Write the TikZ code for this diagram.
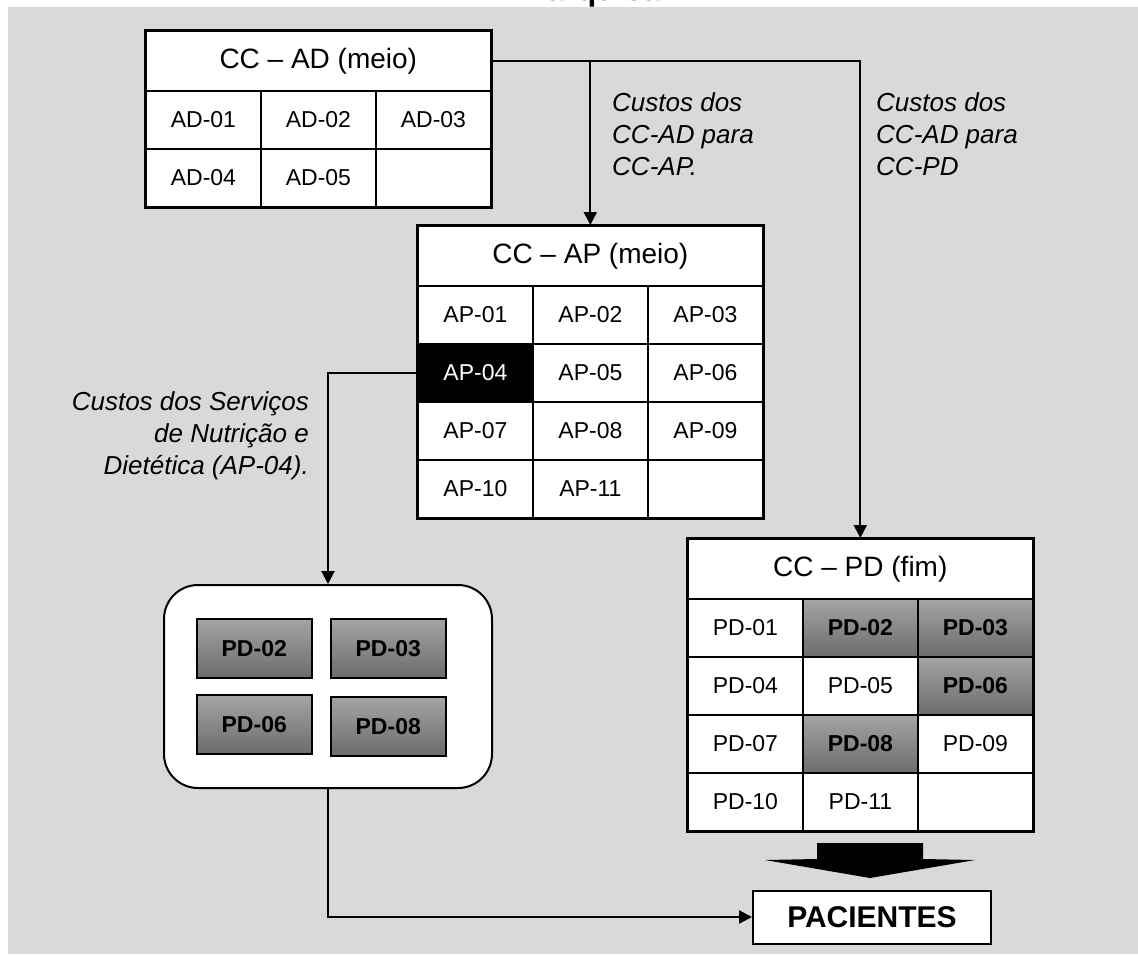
\documentclass[tikz,border=0pt]{standalone}
\usepackage{fontspec}
\setmainfont{Liberation Sans}
\usetikzlibrary{arrows.meta, positioning, calc}
\definecolor{bgpanel}{HTML}{D9D9D9}
\definecolor{shadehi}{HTML}{A4A4A4}
\definecolor{shadelo}{HTML}{6C6C6C}
\tikzset{
  hdr/.style={draw, fill=white, line width=1.6pt, minimum width=345pt, minimum height=60pt,
              inner sep=0pt, anchor=north west, font=\fontsize{28}{32}\selectfont},
  cell/.style={draw, fill=white, line width=1.8pt, minimum width=115pt, minimum height=58pt,
               inner sep=0pt, anchor=north west, font=\fontsize{23}{27}\selectfont},
  hcell/.style={cell, top color=shadehi, bottom color=shadelo, font=\fontsize{23}{27}\selectfont\bfseries},
  kcell/.style={cell, fill=black, text=white},
  gbox/.style={draw, line width=1.5pt, top color=shadehi, bottom color=shadelo, minimum width=115pt,
               minimum height=59pt, inner sep=0pt, anchor=north west, font=\fontsize{23}{27}\selectfont\bfseries},
  frame/.style={draw, line width=3pt},
  fl/.style={-{Triangle[length=13pt, width=13pt]}, line width=2.2pt},
  note/.style={inner sep=0pt, font=\fontsize{26}{32}\selectfont\itshape},
}

\begin{document}
\begin{tikzpicture}[x=1pt, y=-1pt]
    \useasboundingbox (0,0) rectangle (1138,954);
    \fill[white] (0,0) rectangle (1138,954);
    \begin{scope}
      \clip (0,0) rectangle (1138,7);
      \node[anchor=base west, inner sep=0pt, font=\fontsize{32}{36}\selectfont\bfseries] (ttl) at (534,0.5) {rárquica};
    \end{scope}
    \fill[bgpanel] (8,7) rectangle (1138,954);

    % CC-AD
    \node[hdr] (adh) at (145,30) {CC – AD (meio)};
    \foreach \i/\t in {1/AD-01, 2/AD-02, 3/AD-03, 4/AD-04, 5/AD-05, 6/{}} {
      \pgfmathtruncatemacro\cx{mod(\i-1,3)}
      \pgfmathtruncatemacro\ry{div(\i-1,3)}
      \node[cell] (ad\i) at (145+115*\cx, 90+58*\ry) {\t};
    }
    \draw[frame] (adh.north west) rectangle (ad6.south east);

    % CC-AP
    \node[hdr] (aph) at (417,225) {CC – AP (meio)};
    \foreach \i/\t/\s in {1/AP-01/cell, 2/AP-02/cell, 3/AP-03/cell, 4/AP-04/kcell, 5/AP-05/cell, 6/AP-06/cell,
                          7/AP-07/cell, 8/AP-08/cell, 9/AP-09/cell, 10/AP-10/cell, 11/AP-11/cell, 12/{}/cell} {
      \pgfmathtruncatemacro\cx{mod(\i-1,3)}
      \pgfmathtruncatemacro\ry{div(\i-1,3)}
      \node[\s] (ap\i) at (417+115*\cx, 285+58*\ry) {\t};
    }
    \draw[frame] (aph.north west) rectangle (ap12.south east);

    % CC-PD
    \node[hdr] (pdh) at (687,538) {CC – PD (fim)};
    \foreach \i/\t/\s in {1/PD-01/cell, 2/PD-02/hcell, 3/PD-03/hcell, 4/PD-04/cell, 5/PD-05/cell, 6/PD-06/hcell,
                          7/PD-07/cell, 8/PD-08/hcell, 9/PD-09/cell, 10/PD-10/cell, 11/PD-11/cell, 12/{}/cell} {
      \pgfmathtruncatemacro\cx{mod(\i-1,3)}
      \pgfmathtruncatemacro\ry{div(\i-1,3)}
      \node[\s] (pd\i) at (687+115*\cx, 598+58*\ry) {\t};
    }
    \draw[frame] (pdh.north west) rectangle (pd12.south east);

    % nutricao group
    \node[draw, fill=white, line width=2pt, rounded corners=34pt, minimum width=328pt, minimum height=203pt,
          anchor=north west] (grp) at (163,584) {};
    \node[gbox] (g2) at (196,618) {PD-02};
    \node[gbox] (g3) at (330,618) {PD-03};
    \node[gbox] (g6) at (196,694) {PD-06};
    \node[gbox] (g8) at (330,696) {PD-08};

    \node[draw, fill=white, line width=2pt, minimum width=238pt, minimum height=53pt, inner sep=0pt,
          font=\fontsize{30}{32}\selectfont\bfseries] (pac) at (872,917) {PACIENTES};

    % block arrow
    \fill (817,843) -- (923,843) -- (923,859) -- (975,860) -- (870,878) -- (765,860) -- (817,859) -- cycle;

    \node[note, anchor=north west, align=left] (lab1) at (612,92) {Custos dos\\CC-AD para\\CC-AP.};
    \node[note, anchor=north west, align=left] (lab2) at (876,92) {Custos dos\\CC-AD para\\CC-PD};
    \node[note, anchor=north east, align=right] (lab3) at (309,391) {Custos dos Serviços\\de Nutrição e\\Dietética (AP-04).};

    \draw[fl] (adh.east) -| (pdh.north);
    \draw[fl] (aph.north |- adh.east) -- (aph.north);
    \draw[fl] (ap4.west) -| (grp.north);
    \draw[fl] (grp.south) |- (pac.west);
  \end{tikzpicture}
\end{document}
